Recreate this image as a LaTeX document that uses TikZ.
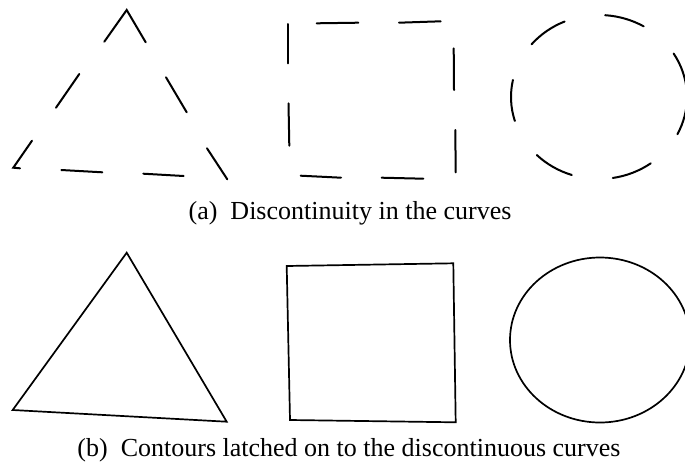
\documentclass[tikz,border=0pt]{standalone}
\usepackage{fontspec}
\setmainfont{Liberation Serif}
\usetikzlibrary{calc}
\begin{document}
\begin{tikzpicture}[x=1pt,y=-1pt,
  stroke/.style={line width=2pt,line cap=round,black},
  solid stroke/.style={line width=1.7pt,black},
  caption/.style={font=\fontsize{26}{30}\selectfont,inner sep=0pt}]
\useasboundingbox (0,0) rectangle (685,466);
\clip (0,0) rectangle (685,466);
% ---- (a) dashed triangle
\draw[stroke] (104.3,41.7) -- (126.7,10) -- (145.7,42.3);
\draw[stroke] (79.3,74) -- (56,107.7);
\draw[stroke] (32,140.7) -- (13.3,167.7) -- (20,168.3);
\draw[stroke] (61.3,170) -- (102.3,172.3);
\draw[stroke] (143.3,173.7) -- (183.7,176);
\draw[stroke] (166,77.3) -- (186.7,112.3);
\draw[stroke] (207,148.3) -- (227.3,179.3);
% ---- (a) dashed square
\draw[stroke] (287.7,24) -- (287.7,63.3);
\draw[stroke] (288.5,103.3) -- (289.3,145.7);
\draw[stroke] (316.7,23.3) -- (358.3,22.7);
\draw[stroke] (399,22.7) -- (440.7,21.3);
\draw[stroke] (453.7,48.3) -- (454,90);
\draw[stroke] (455.3,130) -- (455.7,172.3);
\draw[stroke] (300.7,175.7) -- (341,177.7);
\draw[stroke] (381.7,177.7) -- (423.3,178.7);
% ---- (a) dashed circle
\coordinate (dc) at (599,97);
\foreach \a/\b in {59.5/86,113/140,168/197,225/252,279/306,333/360,5/32}{
  \draw[stroke] ($(dc)+({88*cos(\a)},{-82*sin(\a)})$) arc[start angle=\a,end angle=\b,x radius=88,y radius=-82];
}
% ---- captions
\node[caption] (capa) at (350,213) {(a)\hspace{0.25em} Discontinuity in the curves};
% ---- (b) solid shapes
\draw[solid stroke,line join=miter] (126.7,252.7) -- (226.7,421.7) -- (12.7,410) -- cycle;
\draw[solid stroke] (286.7,266) -- (453.3,263.3) -- (455.7,422.3) -- (290,420) -- cycle;
\draw[solid stroke] (600,340) ellipse[x radius=90,y radius=82.5];
\node[caption] (capb) at (349,450) {(b)\hspace{0.25em} Contours latched on to the discontinuous curves};
\end{tikzpicture}
\end{document}
